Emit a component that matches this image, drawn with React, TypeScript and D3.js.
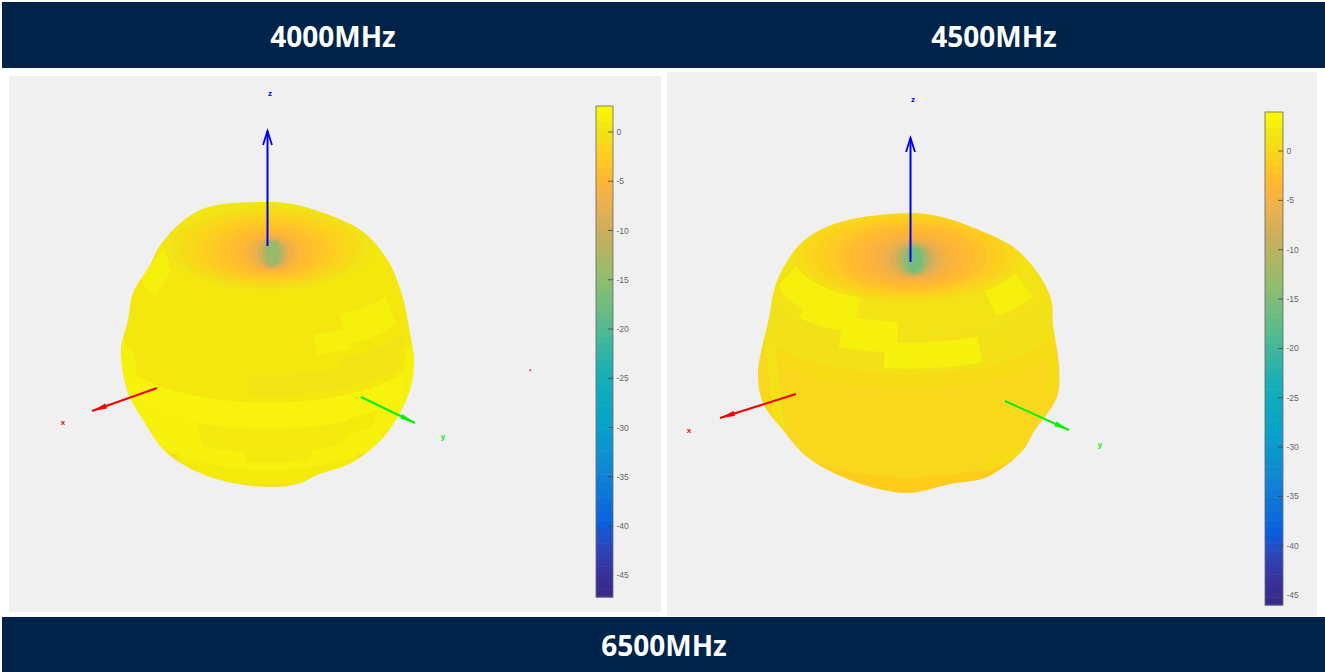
import React from "react";
import * as d3 from "d3";

// ---------- data ----------
const headerLabels = ["4000MHz", "4500MHz", "6500MHz"];
const tickValues = [0, -5, -10, -15, -20, -25, -30, -35, -40, -45];

// colormap: position along the bar (0 = top, 1 = bottom) and colour
const cmapStops = [0, 0.052, 0.102, 0.152, 0.202, 0.252, 0.352, 0.452, 0.552, 0.652, 0.752, 0.852, 0.902, 0.954, 1];
const cmapColors = ["#FAFB05", "#F1E313", "#FFCC20", "#FFB437", "#E9B050", "#CDAE5A", "#8FBD6E", "#55BA8F", "#14AEB8", "#08A2CB", "#1283D4", "#0A5FDE", "#2E45B8", "#38309A", "#352A87"];

// silhouette: [bearing in degrees clockwise from +z, radius]
const outline4000: [number, number][] = [[0, 143], [11.7, 143], [24.4, 143.5], [40.3, 148], [55.4, 146.5], [70.3, 143], [85.2, 142.5], [95.9, 146.8], [107.6, 149], [126.5, 148], [144, 144.6], [159.3, 138.9], [166.9, 141.7], [180, 142], [203.7, 144.2], [223.1, 147.9], [239, 145.8], [252.3, 148], [268, 147.1], [280.1, 142.2], [291, 144.7], [303.5, 142.5], [314.2, 147.5], [333.3, 151.2]];
const outline4500: [number, number][] = [[0, 140], [12.8, 140], [27.5, 141], [45.3, 149], [60.9, 152], [70.7, 151.5], [78.2, 147], [95.3, 150.7], [106.6, 154.4], [122.8, 147.6], [130.4, 149.7], [147.8, 146.5], [162.6, 137.3], [180.8, 140], [205, 140], [224.4, 145.7], [238.6, 147.7], [251, 154.3], [262.5, 152.3], [272.3, 147], [286, 144.6], [290, 146.5], [300.5, 151], [316, 154], [332, 148]];

// latitude bands, south to north: [starting latitude, gain dB]
const bands4000: [number, number][] = [[-90, -1.4], [-62, -0.5], [-52, 0.9], [-38, 1.6], [-14, 1.8], [-3, 0.5], [43, 0.4]];
const bands4500: [number, number][] = [[-90, -1.6], [-50, -1], [-36, 0.1], [6, 0.5], [12, 1.1], [26, 1.2], [42, 1.5]];

// gain patches: [lon from, lon to, lat from, lat to, gain dB]
const patches4000: [number, number, number, number, number][] = [
  [-30, 35, -27, -15, 0.8], [-10, 20, -33, -27, 0.8], [35, 50, -22, -14, 0.9],
  [-8, 65, 0, 8, 0.15], [30, 70, 8, 12, 0.15],
  [20, 36, 15, 23, 1.5], [34, 66, 17, 29, 1.5],
  [-88, -62, 30, 42, 1.5], [-88, -68, 42, 52, 1.5], [-85, -65, -8, 5, 1.5], [70, 88, -15, 5, 1.5],
];
const patches4500: [number, number, number, number, number][] = [
  [-88, -45, 30, 54, 2.8], [-55, -25, 26, 42, 2.8], [-30, -5, 20, 32, 3], [-10, 30, 14, 24, 3],
  [42, 72, 30, 48, 2.8], [-88, -66, -25, 12, 1.2], [66, 88, -10, 8, 0.7], [-60, -40, -48, -38, 0.6], [38, 62, -38, -28, 0.6],
];

// pole rings, outside in: [ring size, gain dB]
const rings4000: [number, number][] = [[104, 0.2], [97, -0.2], [90, -0.7], [82, -1.2], [74, -1.8], [66, -2.4], [58, -3], [50, -3.5], [42, -4], [34, -4.5], [27, -5.5], [21, -7], [15, -9], [11, -11.5], [7, -14]];
const rings4500: [number, number][] = [[116, 0.8], [106, 0.1], [96, -0.6], [86, -1.4], [76, -2.2], [66, -2.8], [56, -3.4], [46, -4], [38, -4.8], [30, -6], [24, -7.5], [18, -9.5], [14, -12], [10, -14.5], [7, -16]];

// ---------- layout ----------
const NAVY = "#00234A";
const PANEL = "#F0F0F0";

const cmapT = d3.scaleLinear<string>().domain(cmapStops).range(cmapColors).interpolate(d3.interpolateRgb);

const panels = [
  {
    rect: [9, 76, 652, 536], cx: 268, cy: 345, R: 147,
    outline: outline4000, bands: bands4000, patches: patches4000, rings: rings4000,
    ringCy: 247, ringShift: 0.07,
    bar: { x: 596, w: 17, y0: 106, y1: 597, zeroY: 132, perDb: 9.85 },
    axes: [
      { label: "z", color: "#0000F0", from: [267.5, 246], to: [267.5, 131], lab: [270, 94], open: true },
      { label: "x", color: "#F80000", from: [157, 388], to: [92, 411], lab: [63, 423], open: false },
      { label: "y", color: "#00F000", from: [361, 397], to: [415, 423], lab: [443, 437], open: false },
    ],
  },
  {
    rect: [667, 72, 650, 544], cx: 909, cy: 353, R: 150,
    outline: outline4500, bands: bands4500, patches: patches4500, rings: rings4500,
    ringCy: 255, ringShift: 0.045,
    bar: { x: 1265, w: 18, y0: 112, y1: 605, zeroY: 151, perDb: 9.87 },
    axes: [
      { label: "z", color: "#0000F0", from: [910.5, 262], to: [910.5, 138], lab: [913, 100], open: true },
      { label: "x", color: "#F80000", from: [796, 394], to: [720, 418], lab: [689, 431], open: false },
      { label: "y", color: "#00F000", from: [1005, 401], to: [1069, 430], lab: [1100, 445], open: false },
    ],
  },
];

function Arrow({ a }: { a: (typeof panels)[0]["axes"][0] }) {
  const [x0, y0] = a.from, [x1, y1] = a.to;
  const ang = Math.atan2(y1 - y0, x1 - x0);
  const hl = a.open ? 14 : 15, hw = a.open ? 4.5 : 2.6;
  const bx = x1 - Math.cos(ang) * hl, by = y1 - Math.sin(ang) * hl;
  const nx = -Math.sin(ang) * hw, ny = Math.cos(ang) * hw;
  const wing1 = [bx + nx, by + ny], wing2 = [bx - nx, by - ny];
  return (
    <g>
      <line x1={x0} y1={y0} x2={x1} y2={y1} stroke={a.color} strokeWidth={2} />
      {a.open ? (
        <path d={`M${wing1}L${x1},${y1}L${wing2}`} fill="none" stroke={a.color} strokeWidth={1.8} />
      ) : (
        <path d={`M${wing1}L${x1},${y1}L${wing2}Z`} fill={a.color} />
      )}
      <text x={a.lab[0]} y={a.lab[1]} fill={a.color} fontSize={8} fontWeight={700} textAnchor="middle" dominantBaseline="middle" fontFamily="Liberation Sans">{a.label}</text>
    </g>
  );
}

function Panel({ p, id }: { p: (typeof panels)[0]; id: string }) {
  const { bar, cx, cy, R } = p;
  const dbY = d3.scaleLinear().domain([0, -5]).range([bar.zeroY, bar.zeroY + bar.perDb * 5]);
  const toT = d3.scaleLinear().domain([bar.y0, bar.y1]).range([0, 1]);
  const color = (db: number) => cmapT(toT(dbY(db)));

  const projection = d3.geoOrthographic().scale(R).translate([cx, cy]).rotate([0, -20]).clipAngle(null as any).precision(0.1);
  const pt = (lon: number, lat: number) => projection([lon, lat]) as [number, number];
  const line = d3.line();

  const radial = d3
    .lineRadial<[number, number]>()
    .angle((d) => (d[0] * Math.PI) / 180)
    .radius((d) => d[1])
    .curve(d3.curveCatmullRomClosed.alpha(0.5));

  const bandPath = (lat: number) => {
    const arc = d3.range(-90, 91, 3).map((lon) => pt(lon, lat));
    const yEnd = arc[0][1];
    return line([[cx - 220, yEnd], ...arc, [cx + 220, yEnd], [cx + 220, cy - 220], [cx - 220, cy - 220]] as [number, number][]) + "Z";
  };
  const patchPath = ([l0, l1, a0, a1]: number[]) => {
    const n = d3.range(0, 1.001, 0.1);
    const lon = d3.scaleLinear().domain([0, 1]).range([l0, l1]);
    const pts = [...n.map((t) => pt(lon(t), a0)), ...n.map((t) => pt(lon(1 - t), a1))];
    return line(pts) + "Z";
  };

  const levels = d3.range(64);
  const levelH = d3.scaleLinear().domain([0, 64]).range([bar.y0, bar.y1]);

  return (
    <g>
      <rect x={p.rect[0]} y={p.rect[1]} width={p.rect[2]} height={p.rect[3]} fill={PANEL} />
      <clipPath id={id}>
        <path d={radial(p.outline) as string} transform={`translate(${cx},${cy})`} />
      </clipPath>
      <g clipPath={`url(#${id})`}>
        <g filter="url(#soft)">
          <rect x={cx - 220} y={cy - 220} width={440} height={440} fill={color(p.bands[0][1])} />
          {p.bands.map(([lat, db], i) => (
            <path key={i} d={bandPath(lat)} fill={color(db)} />
          ))}
          {p.patches.map((q, i) => (
            <path key={i} d={patchPath(q)} fill={color(q[4])} />
          ))}
          {p.rings.map(([r, db], i) => (
            <ellipse key={i} cx={cx + (p.rings[0][0] - r) * 0.05} cy={p.ringCy + (p.rings[0][0] - r) * p.ringShift} rx={r} ry={r * 0.32 + 10} fill={color(db)} />
          ))}
        </g>
      </g>
      {p.axes.map((a) => (
        <Arrow key={a.label} a={a} />
      ))}
      {levels.map((l) => (
        <rect key={l} x={bar.x} y={levelH(l)} width={bar.w} height={levelH(l + 1) - levelH(l) + 0.5} fill={cmapT((l + 0.5) / 64)} />
      ))}
      <rect x={bar.x} y={bar.y0} width={bar.w} height={bar.y1 - bar.y0} fill="none" stroke="#666" strokeWidth={0.8} />
      {tickValues.map((t) => (
        <g key={t}>
          <line x1={bar.x + bar.w - 5} x2={bar.x + bar.w} y1={dbY(t)} y2={dbY(t)} stroke="#404040" strokeWidth={0.8} />
          <text x={bar.x + bar.w + 3.5} y={dbY(t)} fontSize={8.5} fill="#666" dominantBaseline="central" fontFamily="Liberation Sans">{t}</text>
        </g>
      ))}
    </g>
  );
}

export default function App() {
  return (
    <svg width={1325} height={672} style={{ position: "absolute", left: 0, top: 0, background: "#fff" }}>
      <defs>
        <filter id="soft" x="-5%" y="-5%" width="110%" height="110%">
          <feGaussianBlur stdDeviation={0.7} />
        </filter>
      </defs>
      <rect x={2} y={2} width={1323} height={66} fill={NAVY} />
      <rect x={2} y={617} width={1323} height={55} fill={NAVY} />
      <g fill="#fff" fontFamily="'Open Sans'" fontWeight={700} fontSize={28} textAnchor="middle">
        <text x={333} y={47}>{headerLabels[0]}</text>
        <text x={994} y={47}>{headerLabels[1]}</text>
        <text x={664} y={656}>{headerLabels[2]}</text>
      </g>
      <Panel p={panels[0]} id="clipA" />
      <Panel p={panels[1]} id="clipB" />
      <rect x={529.5} y={369.5} width={1.5} height={1.5} fill="#F00" />
    </svg>
  );
}
